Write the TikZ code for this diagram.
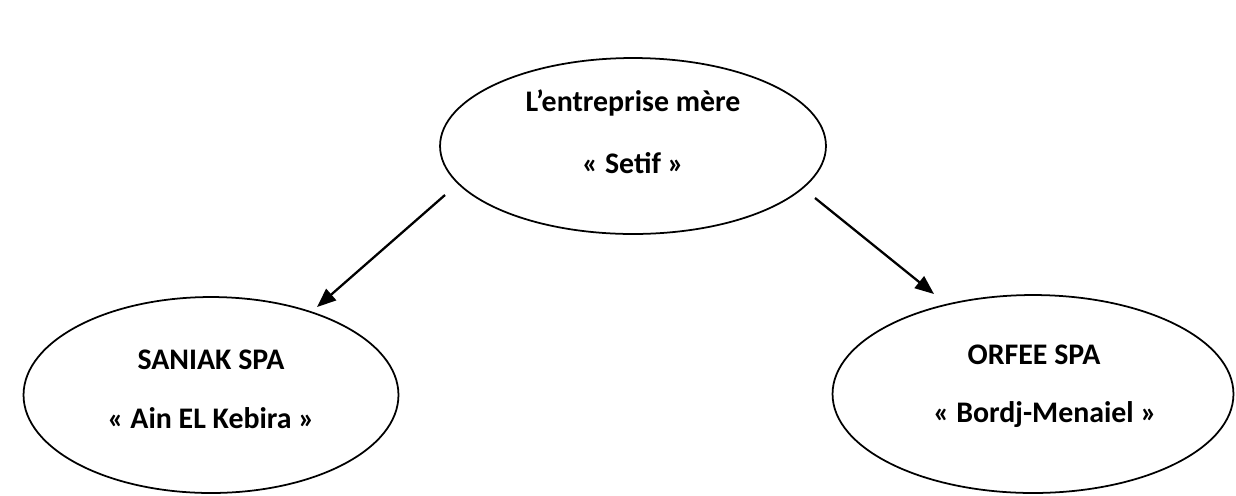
\documentclass[tikz,border=0pt]{standalone}
\usepackage{fontspec}
\setmainfont{Carlito}
\usetikzlibrary{arrows.meta, shapes.geometric}

\begin{document}
\begin{tikzpicture}[
            x = 0.02cm, y = -0.02cm, % one unit per pixel, y downwards
            -{Triangle[length = 0.38cm, width = 0.3cm]}, % arrow head style
            line width = 1.3pt % arrow style
        ]

        \tikzstyle{firm}=[
            ellipse,
            draw = black,
            line width = 1pt,
            inner sep = 0pt,
            -
        ]
        \tikzstyle{firm text}=[
            font = \fontsize{17}{20}\selectfont\bfseries,
            inner sep = 0pt
        ]

        \useasboundingbox (0, 0) rectangle (1236, 495);

        \node[firm, minimum width = 7.72cm, minimum height = 3.52cm] (mere) at (633, 146) {};
        \node[firm, minimum width = 7.5cm, minimum height = 3.92cm] (saniak) at (211, 395) {};
        \node[firm, minimum width = 8.02cm, minimum height = 3.96cm] (orfee) at (1033, 394) {};

        \node[firm text] (mere1) at (633, 103) {L’entreprise mère};
        \node[firm text] (mere2) at (633, 163) {« Setif »};
        \node[firm text] (saniak1) at (211, 360) {SANIAK SPA};
        \node[firm text] (saniak2) at (211, 418) {« Ain EL Kebira »};
        \node[firm text] (orfee1) at (1034, 355) {ORFEE SPA};
        \node[firm text] (orfee2) at (1045, 415) {« Bordj-Menaiel »};

        % arrow ends, a bit off the ellipses
        \coordinate (mereL) at (445, 195);
        \coordinate (mereR) at (815, 198);
        \coordinate (saniakT) at (317, 307);
        \coordinate (orfeeT) at (934, 294);

        \draw (mereL) -- (saniakT);
        \draw (mereR) -- (orfeeT);
    \end{tikzpicture}
\end{document}
